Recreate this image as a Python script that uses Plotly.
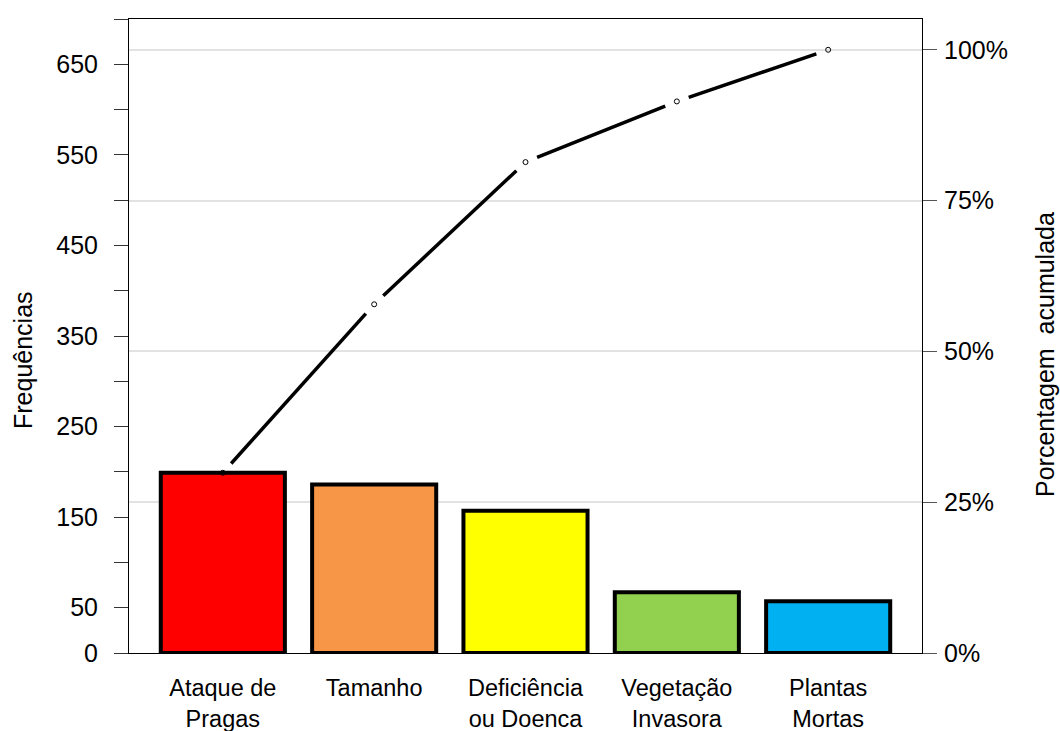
import numpy as np
import plotly.graph_objects as go

# Pareto data
categories = ["Ataque de<br>Pragas", "Tamanho", "Deficiência<br>ou Doenca",
              "Vegetação<br>Invasora", "Plantas<br>Mortas"]
frequencies = [199, 186, 157, 67, 57]
bar_colors = ["#FF0000", "#F79646", "#FFFF00", "#92D050", "#00B0F0"]

freq_ticks = list(range(0, 701, 50))
freq_labels = [str(v) if (v == 0 or v % 100 == 50) else "" for v in freq_ticks]
pct_ticks = [0, 25, 50, 75, 100]
pct_labels = [f"{v}%" for v in pct_ticks]

total = sum(frequencies)
cum_pct = np.cumsum(frequencies) / total * 100
freq_max = 700
pct_max = freq_max / total * 100

# Figure geometry
W, H = 1060, 731
margin = dict(l=129, r=138, t=19, b=78)
plot_w = W - margin["l"] - margin["r"]
plot_h = H - margin["t"] - margin["b"]
n = len(categories)
x_idx = list(range(n))
x_range = [-0.62, n - 1 + 0.62]
px_per_x = plot_w / (x_range[1] - x_range[0])
px_per_pct = plot_h / pct_max
gap_px = 12.5  # blank space left around each point of the cumulative line

seg_x, seg_y = [], []
for i in range(n - 1):
    dy_pct = cum_pct[i + 1] - cum_pct[i]
    seg_len = np.hypot(px_per_x, dy_pct * px_per_pct)
    f = gap_px / seg_len
    seg_x += [i + f, i + 1 - f, None]
    seg_y += [cum_pct[i] + f * dy_pct, cum_pct[i + 1] - f * dy_pct, None]

font_family = "Liberation Sans, Arial, sans-serif"

fig = go.Figure()
fig.add_trace(go.Bar(
    x=x_idx, y=frequencies, width=0.82,
    marker=dict(color=bar_colors, line=dict(color="black", width=4)),
    showlegend=False,
))
fig.add_trace(go.Scatter(
    x=seg_x, y=seg_y, yaxis="y2", mode="lines",
    line=dict(color="black", width=3.5), showlegend=False,
))
fig.add_trace(go.Scatter(
    x=x_idx, y=cum_pct, yaxis="y2", mode="markers",
    marker=dict(symbol="circle-open", size=5, color="black", line=dict(width=1)),
    showlegend=False,
))

fig.update_layout(
    width=W, height=H, margin=margin,
    paper_bgcolor="white", plot_bgcolor="white",
    font=dict(family=font_family, size=24, color="black"),
    xaxis=dict(
        range=x_range, tickvals=x_idx, ticktext=categories,
        showgrid=False, zeroline=False, ticks="", automargin=False,
        showline=True, linecolor="black", linewidth=1, mirror=True,
        tickfont=dict(size=23.5), ticklabelstandoff=14,
    ),
    yaxis=dict(
        range=[0, freq_max], tickvals=freq_ticks, ticktext=freq_labels,
        showgrid=False, zeroline=False, automargin=False,
        ticks="outside", ticklen=14, tickcolor="#333333", tickwidth=1,
        showline=True, linecolor="black", linewidth=1,
        ticklabelstandoff=11, tickfont=dict(size=25),
    ),
    yaxis2=dict(
        overlaying="y", side="right", automargin=False,
        range=[0, pct_max], tickvals=pct_ticks, ticktext=pct_labels,
        showgrid=True, gridcolor="#E2E2E2", gridwidth=1.5, zeroline=False,
        ticks="outside", ticklen=14, tickcolor="#555555", tickwidth=1,
        showline=True, linecolor="black", linewidth=1,
        ticklabelstandoff=2, tickfont=dict(size=25),
    ),
    annotations=[
        dict(text="Frequências", xref="paper", yref="paper",
             x=(23 - margin["l"]) / plot_w, y=(H - margin["b"] - 360) / plot_h,
             xanchor="center", yanchor="middle", textangle=-90, showarrow=False,
             font=dict(size=25)),
        dict(text="Porcentagem  acumulada", xref="paper", yref="paper",
             x=(1045 - margin["l"]) / plot_w, y=(H - margin["b"] - 355) / plot_h,
             xanchor="center", yanchor="middle", textangle=-90, showarrow=False,
             font=dict(size=25)),
    ],
)

fig.write_html("out.html")
